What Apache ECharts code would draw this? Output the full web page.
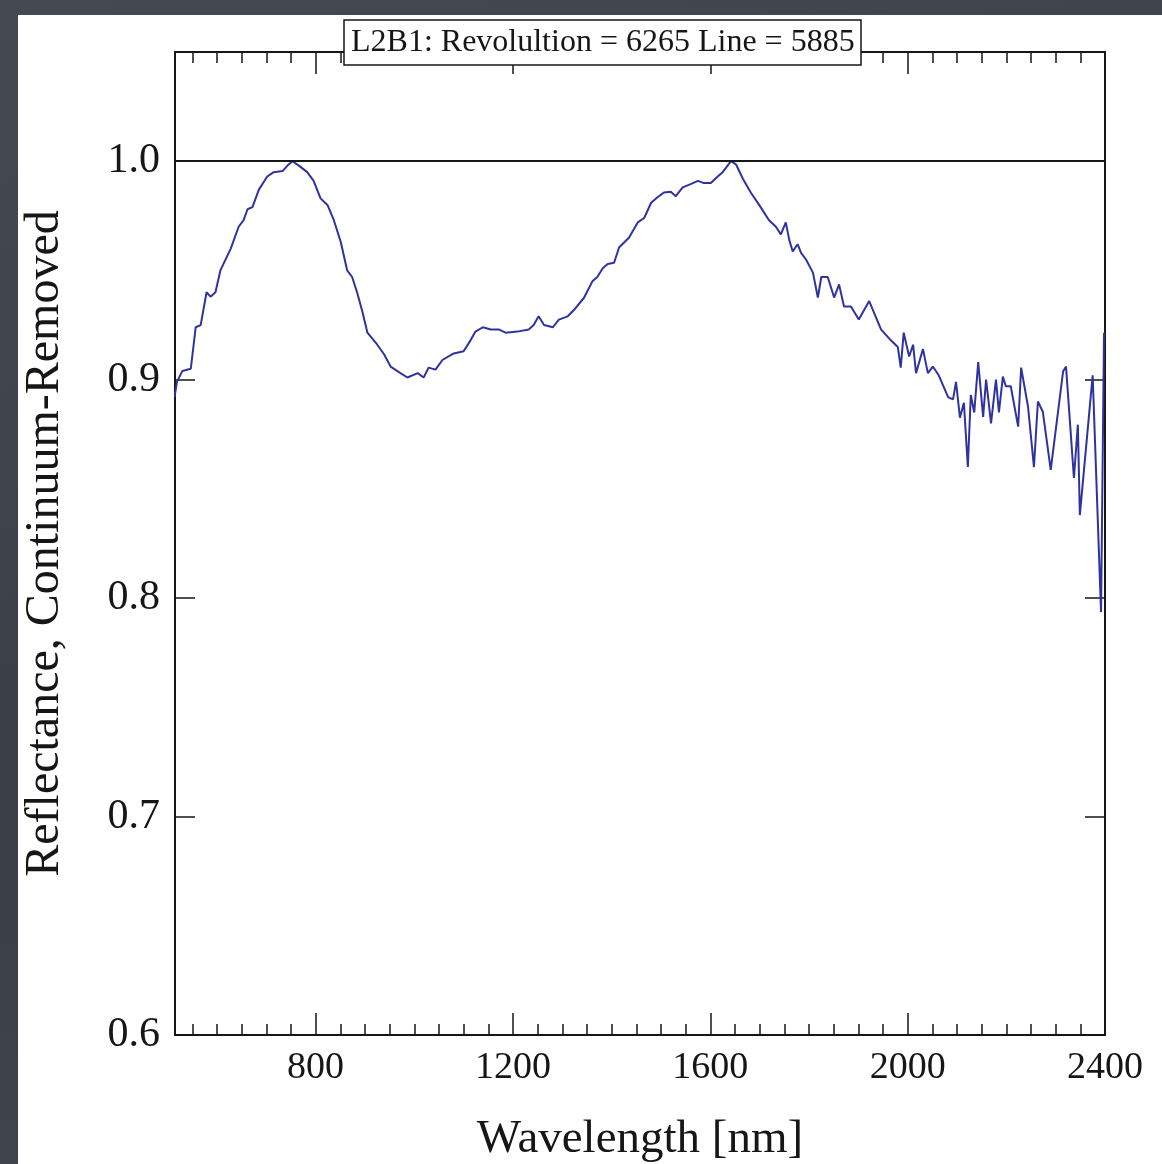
<!DOCTYPE html>
<html>
<head>
<meta charset="utf-8">
<script src="https://cdn.jsdelivr.net/npm/echarts@6/dist/echarts.min.js"></script>
<style>
  html, body { margin: 0; padding: 0; width: 1162px; height: 1164px; overflow: hidden;
    background: linear-gradient(160deg, #454951 0%, #3b3f47 50%, #43474f 100%); }
  #chart { position: absolute; left: 18px; top: 15px; width: 1144px; height: 1149px; background: #ffffff; }
</style>
</head>
<body>
<div id="chart"></div>
<script>
// ---- data ----
const wavelengths = [
  514, 519, 530, 547, 557, 567, 579, 587, 597, 607, 628, 644, 654, 662, 672, 685, 702, 715, 733, 743,
  753, 766, 783, 796, 810, 824, 837, 851, 864, 874, 884, 895, 905, 925, 939, 952, 972, 986, 1007, 1019,
  1029, 1043, 1057, 1080, 1100, 1114, 1124, 1139, 1155, 1171, 1185, 1209, 1232, 1242, 1252, 1263, 1281, 1293, 1311, 1324,
  1344, 1361, 1371, 1382, 1392, 1405, 1415, 1435, 1453, 1466, 1480, 1493, 1506, 1520, 1530, 1544, 1560, 1575, 1587, 1601,
  1615, 1625, 1642, 1652, 1666, 1682, 1702, 1719, 1733, 1743, 1753, 1760, 1767, 1777, 1784, 1794, 1808, 1818, 1825, 1838,
  1851, 1861, 1871, 1885, 1901, 1922, 1946, 1966, 1980, 1986, 1992, 2003, 2011, 2017, 2031, 2041, 2051, 2063, 2082, 2092,
  2098, 2106, 2114, 2122, 2128, 2135, 2143, 2153, 2159, 2169, 2179, 2185, 2193, 2199, 2209, 2224, 2230, 2244, 2256, 2264,
  2274, 2290, 2315, 2321, 2337, 2345, 2349, 2375, 2392, 2398
];
const reflectance = [
  0.892, 0.899, 0.904, 0.905, 0.924, 0.925, 0.940, 0.938, 0.940, 0.950, 0.960, 0.970, 0.973, 0.978, 0.979, 0.987, 0.993, 0.995, 0.9955, 0.998,
  1.000, 0.998, 0.995, 0.991, 0.983, 0.980, 0.973, 0.963, 0.950, 0.947, 0.940, 0.931, 0.9215, 0.916, 0.9115, 0.906, 0.903, 0.901, 0.903, 0.901,
  0.9055, 0.9046, 0.909, 0.912, 0.913, 0.918, 0.922, 0.924, 0.923, 0.923, 0.9215, 0.922, 0.923, 0.925, 0.929, 0.925, 0.924, 0.9275, 0.929, 0.932,
  0.9375, 0.945, 0.947, 0.951, 0.953, 0.9535, 0.9605, 0.965, 0.972, 0.974, 0.981, 0.9835, 0.9857, 0.986, 0.984, 0.988, 0.9895, 0.991, 0.990, 0.990,
  0.993, 0.995, 1.000, 0.9986, 0.992, 0.9857, 0.979, 0.973, 0.970, 0.9665, 0.972, 0.964, 0.9587, 0.962, 0.958, 0.955, 0.949, 0.9376, 0.947, 0.947,
  0.9376, 0.9436, 0.9335, 0.9335, 0.9275, 0.936, 0.923, 0.918, 0.915, 0.9055, 0.9215, 0.9106, 0.916, 0.903, 0.914, 0.903, 0.906, 0.902, 0.892, 0.891,
  0.899, 0.8826, 0.8894, 0.860, 0.893, 0.885, 0.908, 0.883, 0.900, 0.880, 0.900, 0.885, 0.9014, 0.897, 0.897, 0.8785, 0.9055, 0.8876, 0.860, 0.890,
  0.8853, 0.8587, 0.9037, 0.906, 0.855, 0.8794, 0.838, 0.902, 0.7936, 0.9215
];
const xMajorTicks = [800, 1200, 1600, 2000, 2400];
const xMinorTicks = [550, 600, 650, 700, 750, 800, 850, 900, 950, 1000, 1050, 1100, 1150, 1200, 1250, 1300, 1350, 1400,
  1450, 1500, 1550, 1600, 1650, 1700, 1750, 1800, 1850, 1900, 1950, 2000, 2050, 2100, 2150, 2200, 2250, 2300, 2350];
const yTicks = [0.6, 0.7, 0.8, 0.9, 1.0];
const referenceLevel = 1.0;
const titleText = 'L2B1: Revolultion = 6265 Line = 5885';
const xName = 'Wavelength [nm]';
const yName = 'Reflectance, Continuum-Removed';

// ---- chart ----
const FONT = '"Liberation Serif", "DejaVu Serif", serif';
const INK = '#161616';
const X_MIN = 515, X_MAX = 2400, Y_MIN = 0.6, Y_MAX = 1.05;
const frameLine = { show: true, lineStyle: { color: INK, width: 2 } };

function xAxisDef(position, ticks, len, withLabels, showLine) {
  return {
    type: 'value', position: position, min: X_MIN, max: X_MAX,
    axisLine: showLine ? frameLine : { show: false },
    axisTick: { show: true, inside: true, length: len, customValues: ticks, lineStyle: { color: INK, width: 1.5 } },
    axisLabel: withLabels ? { show: true, customValues: ticks, formatter: v => String(v), fontFamily: FONT, fontSize: 38, color: INK, margin: 14 } : { show: false },
    splitLine: { show: false },
    name: withLabels ? xName : '',
    nameLocation: 'middle', nameGap: 81,
    nameTextStyle: { fontFamily: FONT, fontSize: 47, color: INK }
  };
}

const chart = echarts.init(document.getElementById('chart'), null, { renderer: 'canvas' });
chart.setOption({
  animation: false,
  backgroundColor: '#ffffff',
  title: {
    text: titleText, left: 326, top: 5,
    padding: [7, 7, 6, 7],
    backgroundColor: '#ffffff', borderColor: INK, borderWidth: 1.5,
    textStyle: { fontFamily: FONT, fontSize: 32, fontWeight: 'normal', color: INK }
  },
  grid: { left: 157, top: 37, right: 57, bottom: 129, containLabel: false, outerBoundsMode: 'none' },
  xAxis: [
    xAxisDef('bottom', xMajorTicks, 22, true, true),
    xAxisDef('bottom', xMinorTicks, 11, false, false),
    xAxisDef('top', xMajorTicks, 22, false, true),
    xAxisDef('top', xMinorTicks, 11, false, false)
  ],
  yAxis: [
    {
      type: 'value', position: 'left', min: Y_MIN, max: Y_MAX,
      axisLine: frameLine,
      axisTick: { show: true, inside: true, length: 20, customValues: yTicks, lineStyle: { color: INK, width: 1.5 } },
      axisLabel: { show: true, customValues: yTicks, formatter: v => v.toFixed(1), fontFamily: FONT, fontSize: 42, color: INK, margin: 15 },
      splitLine: { show: false },
      name: yName, nameLocation: 'middle', nameRotate: 90, nameGap: 106,
      nameTextStyle: { fontFamily: FONT, fontSize: 48, color: INK }
    },
    {
      type: 'value', position: 'right', min: Y_MIN, max: Y_MAX,
      axisLine: frameLine,
      axisTick: { show: true, inside: true, length: 20, customValues: yTicks, lineStyle: { color: INK, width: 1.5 } },
      axisLabel: { show: false },
      splitLine: { show: false }
    }
  ],
  series: [{
    type: 'line', xAxisIndex: 0, yAxisIndex: 0,
    data: wavelengths.map((w, i) => [w, reflectance[i]]),
    showSymbol: false, symbol: 'none', smooth: false,
    lineStyle: { color: '#2f33a0', width: 2 },
    z: 3,
    markLine: {
      silent: true, symbol: ['none', 'none'], label: { show: false },
      lineStyle: { color: INK, width: 2, type: 'solid' },
      data: [{ yAxis: referenceLevel }]
    }
  }]
});
</script>
</body>
</html>
